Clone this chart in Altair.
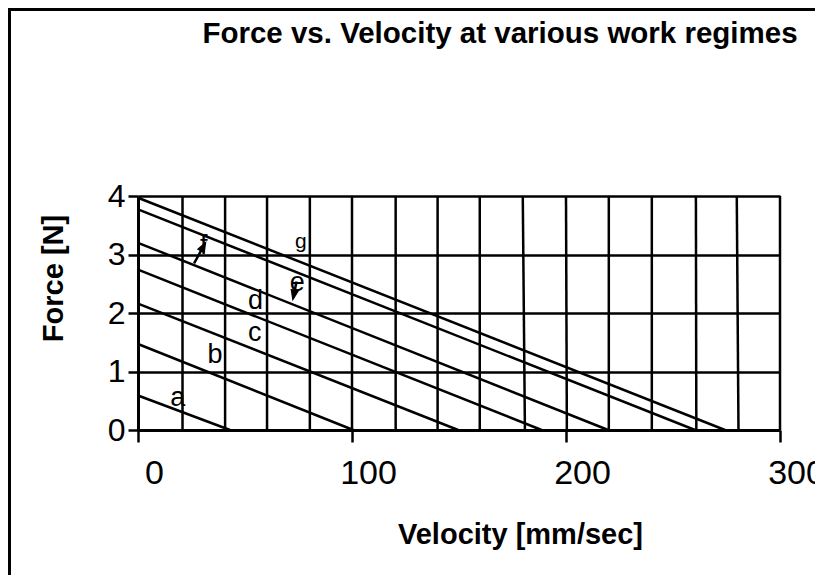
import math
import altair as alt
import pandas as pd

# ---------------- data ----------------
# straight work-regime lines: force at zero velocity and velocity at zero force
series_names = ["a", "b", "c", "d", "f", "e", "g"]
force_at_zero_velocity = [0.59, 1.47, 2.16, 2.74, 3.20, 3.77, 3.97]
velocity_at_zero_force = [43.0, 100.6, 149.6, 188.6, 219.7, 260.3, 274.3]

# near-vertical lines (velocity at F=4 and at F=0)
vert_velocity_top = [20.8, 40.7, 60.3, 80.3, 100.0, 120.4, 140.0, 159.7, 179.8,
                     200.0, 220.0, 240.1, 260.7, 279.8, 300.0]
vert_velocity_bottom = [20.8, 40.7, 60.3, 80.3, 100.0, 120.4, 140.0, 159.7, 180.8,
                        200.4, 220.0, 240.1, 260.9, 280.6, 300.0]

# letter labels
label_text = ["a", "b", "c", "d", "e", "f", "g"]
label_velocity = [18.6, 36.0, 54.6, 54.9, 74.4, 30.7, 76.1]
label_force = [0.54, 1.28, 1.65, 2.20, 2.51, 3.14, 3.22]
label_size = [27, 27, 27, 27, 27, 27, 21]

# arrows (tail -> head)
arrow_v_tail = [26.2, 74.1]
arrow_f_tail = [2.85, 2.54]
arrow_v_head = [32.0, 72.2]
arrow_f_head = [3.23, 2.20]

x_ticks = [0, 100, 200, 300]
y_ticks = [0, 1, 2, 3, 4]

title_text = "Force vs. Velocity at various work regimes"
x_title = "Velocity [mm/sec]"
y_title = "Force [N]"

# ---------------- layout ----------------
W, H = 642, 234
FONT = "Liberation Sans"
LW = 2.5
pxv = W / (x_ticks[-1] - x_ticks[0])
pxf = H / (y_ticks[-1] - y_ticks[0])
HEAD_SIZE = 140
head_r = math.sqrt(HEAD_SIZE) / 2

# ---------------- tables ----------------
diag_rows = []
for s, f0, v0 in zip(series_names, force_at_zero_velocity, velocity_at_zero_force):
    diag_rows.append({"series": s, "v": 0.0, "F": f0})
    diag_rows.append({"series": s, "v": v0, "F": 0.0})
diag = pd.DataFrame(diag_rows)

vert = pd.DataFrame({
    "vt": vert_velocity_top,
    "vb": vert_velocity_bottom,
    "ft": [y_ticks[-1]] * len(vert_velocity_top),
    "fb": [y_ticks[0]] * len(vert_velocity_top),
})

labels = pd.DataFrame({"t": label_text, "v": label_velocity, "F": label_force,
                       "size": label_size})

arrow_rows = []
for vt, ft, vh, fh in zip(arrow_v_tail, arrow_f_tail, arrow_v_head, arrow_f_head):
    dx = (vh - vt) * pxv
    dy = -(fh - ft) * pxf
    L = math.hypot(dx, dy)
    ang = math.degrees(math.atan2(dx, -dy)) % 360
    cv = vh - dx / L * head_r / pxv
    cf = fh + dy / L * head_r / pxf
    arrow_rows.append({"vt": vt, "ft": ft, "cv": cv, "cf": cf, "ang": ang})
arrows = pd.DataFrame(arrow_rows)

xscale = alt.Scale(domain=[x_ticks[0], x_ticks[-1]], nice=False, zero=False)
yscale = alt.Scale(domain=[y_ticks[0], y_ticks[-1]], nice=False, zero=False)

x_axis = alt.Axis(
    values=x_ticks, format="d", grid=False, title=x_title,
    labelFont=FONT, labelFontSize=34, labelColor="black", labelOffset=16,
    labelPadding=14, labelFlush=False, labelOverlap=False,
    tickSize=12, tickWidth=LW, tickColor="black",
    domainColor="black", domainWidth=3,
    titleFont=FONT, titleFontSize=29, titleFontWeight="bold", titleColor="black",
    titleX=382, titleY=113, titleBaseline="alphabetic", titleAlign="center",
)
y_axis = alt.Axis(
    values=y_ticks, format="d", grid=True, gridColor="black", gridWidth=LW,
    gridOpacity=1, title=y_title,
    labelFont=FONT, labelFontSize=32, labelColor="black", labelPadding=3,
    tickSize=10, tickWidth=LW, tickColor="black",
    domainColor="black", domainWidth=3,
    titleFont=FONT, titleFontSize=29, titleFontWeight="bold", titleColor="black",
    titleX=-76, titleY=82, titleBaseline="alphabetic", titleAlign="center",
    titleAngle=270,
)


def X(field):
    return alt.X(field, scale=xscale, axis=x_axis)


def Y(field):
    return alt.Y(field, scale=yscale, axis=y_axis)


diag_layer = alt.Chart(diag).mark_line(color="black", strokeWidth=LW).encode(
    x=X("v:Q"), y=Y("F:Q"), detail="series:N",
)

vert_layer = alt.Chart(vert).mark_rule(color="black", strokeWidth=LW).encode(
    x=X("vt:Q"), x2="vb:Q", y=Y("ft:Q"), y2="fb:Q",
)

label_layer = alt.Chart(labels).mark_text(
    font=FONT, color="black", align="center", baseline="middle"
).encode(
    x=X("v:Q"), y=Y("F:Q"), text="t:N",
    size=alt.Size("size:Q", scale=None, legend=None),
)

shaft_layer = alt.Chart(arrows).mark_rule(color="black", strokeWidth=LW).encode(
    x=X("vt:Q"), y=Y("ft:Q"), x2="cv:Q", y2="cf:Q",
)

head_layer = alt.Chart(arrows).mark_point(
    shape="M0,-1L0.75,1L-0.75,1Z", filled=True, color="black", opacity=1,
    size=HEAD_SIZE,
).encode(
    x=X("cv:Q"), y=Y("cf:Q"), angle=alt.Angle("ang:Q", scale=None),
)

title_layer = alt.Chart(pd.DataFrame({"t": [title_text]})).mark_text(
    font=FONT, fontSize=29.5, fontWeight="bold", color="black",
    align="center", baseline="alphabetic",
).encode(
    text="t:N", x=alt.value(362), y=alt.value(-153),
)

frame_layer = alt.Chart(pd.DataFrame({"k": [0]})).mark_rect(
    filled=False, stroke="black", strokeWidth=3,
).encode(
    x=alt.value(-128.5), x2=alt.value(800), y=alt.value(-186.5), y2=alt.value(600),
)

chart = alt.layer(
    diag_layer, vert_layer, shaft_layer, head_layer, label_layer,
    title_layer, frame_layer,
).properties(
    width=W, height=H,
    autosize=alt.AutoSizeParams(type="none"),
    padding={"left": 130, "top": 188, "right": 35, "bottom": 145},
    background="white",
).configure_view(stroke=None)

chart.save("out.html", embed_options={"renderer": "svg", "actions": False})
